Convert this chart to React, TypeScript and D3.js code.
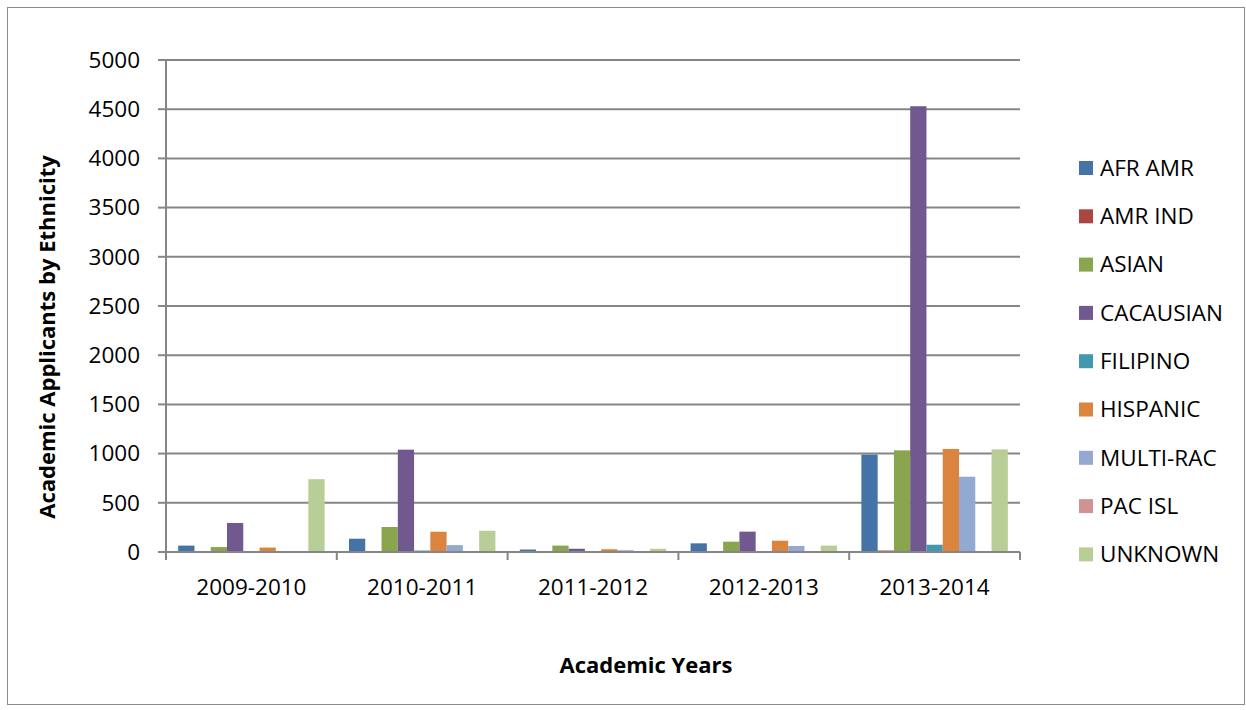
import React from "react";
import * as d3 from "d3";

const years = ["2009-2010", "2010-2011", "2011-2012", "2012-2013", "2013-2014"];
const seriesNames = ["AFR AMR", "AMR IND", "ASIAN", "CACAUSIAN", "FILIPINO", "HISPANIC", "MULTI-RAC", "PAC ISL", "UNKNOWN"];
const colors = ["#4572A7", "#AA4643", "#89A54E", "#71588F", "#4198AF", "#DB843D", "#93A9CF", "#D19392", "#B9CD96"];

const afrAmr = [65, 135, 25, 88, 990];
const amrInd = [0, 5, 0, 0, 15];
const asian = [50, 254, 65, 105, 1033];
const caucasian = [295, 1040, 33, 207, 4530];
const filipino = [0, 15, 0, 0, 74];
const hispanic = [45, 206, 28, 115, 1047];
const multiRac = [0, 70, 18, 61, 765];
const pacIsl = [0, 0, 0, 0, 3];
const unknown = [740, 216, 33, 65, 1043];

const seriesValues = [afrAmr, amrInd, asian, caucasian, filipino, hispanic, multiRac, pacIsl, unknown];
const yTicks = [0, 500, 1000, 1500, 2000, 2500, 3000, 3500, 4000, 4500, 5000];

const W = 1246, H = 710;
const left = 166, right = 1020, top = 60, bottom = 552;
const font = "Open Sans, Noto Sans, sans-serif";
const fs = 22.5;

export default function App() {
  const x0 = d3.scaleBand().domain(years).range([left, right]).paddingInner(0).paddingOuter(0);
  const bw = x0.bandwidth();
  const barW = bw / 10.5;
  const x1 = d3.scaleBand().domain(seriesNames).range([barW * 0.75, barW * 0.75 + barW * 9]);
  const y = d3.scaleLinear().domain([0, 5000]).range([bottom, top]);
  const grid = "#868686";

  return (
    <svg width={W} height={H} style={{ position: "absolute", left: 0, top: 0, background: "#fff" }}>
      <rect x={7.5} y={7.5} width={1237} height={697} fill="#fff" stroke="#8c8c8c" strokeWidth={1} />
      {yTicks.map((t) => (
        <g key={t}>
          {t > 0 && <line x1={left} x2={right} y1={y(t)} y2={y(t)} stroke={grid} strokeWidth={2} />}
          <line x1={left - 8} x2={left} y1={y(t)} y2={y(t)} stroke={grid} strokeWidth={2} />
          <text x={140} y={y(t)} dy="0.35em" textAnchor="end" fontFamily={font} fontSize={fs} fill="#000">{t}</text>
        </g>
      ))}
      {seriesValues.map((vals, si) =>
        vals.map((v, ci) => (
          <rect key={`${si}-${ci}`} x={x0(years[ci])! + x1(seriesNames[si])!} y={y(v)} width={barW} height={bottom - y(v)} fill={colors[si]} />
        ))
      )}
      <line x1={left} x2={left} y1={top} y2={bottom} stroke={grid} strokeWidth={2} />
      <line x1={left} x2={right} y1={bottom} y2={bottom} stroke={grid} strokeWidth={2} />
      {[...years.map((yr) => x0(yr)!), right].map((xv, i) => (
        <line key={i} x1={xv} x2={xv} y1={bottom} y2={bottom + 8} stroke={grid} strokeWidth={2} />
      ))}
      {years.map((yr) => (
        <text key={yr} x={x0(yr)! + bw / 2} y={587} dy="0.35em" textAnchor="middle" fontFamily={font} fontSize={fs} fill="#000">{yr}</text>
      ))}
      <text x={646} y={665} dy="0.35em" textAnchor="middle" fontFamily={font} fontSize={22} fontWeight="bold" fill="#000">Academic Years</text>
      <text transform={`translate(47,337) rotate(-90)`} dy="0.35em" textAnchor="middle" fontFamily={font} fontSize={22} fontWeight="bold" fill="#000">Academic Applicants by Ethnicity</text>
      {seriesNames.map((s, i) => {
        const cy = 168 + i * 48.3;
        return (
          <g key={s}>
            <rect x={1079} y={cy - 7} width={14} height={14} fill={colors[i]} />
            <text x={1100} y={cy} dy="0.35em" fontFamily={font} fontSize={fs} fill="#000">{s}</text>
          </g>
        );
      })}
    </svg>
  );
}
